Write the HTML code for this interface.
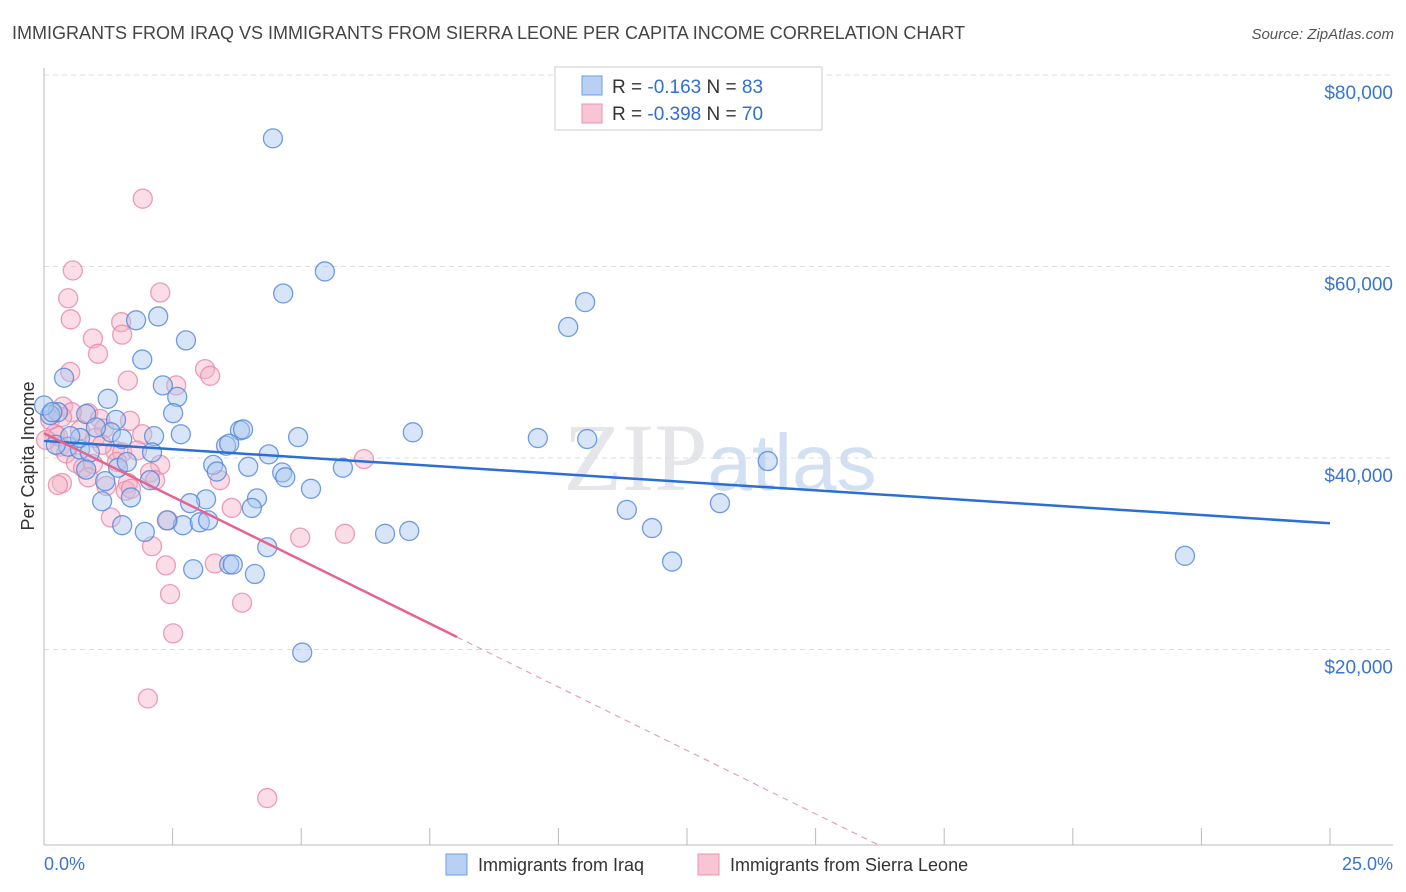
<!DOCTYPE html>
<html><head><meta charset="utf-8"><style>
body{margin:0;background:#fff;width:1406px;height:892px;overflow:hidden;font-family:"Liberation Sans",sans-serif}
svg{display:block}
</style></head><body>
<svg id="chart" width="1406" height="892" xmlns="http://www.w3.org/2000/svg">
<text x="12" y="39" font-size="18" fill="#444">IMMIGRANTS FROM IRAQ VS IMMIGRANTS FROM SIERRA LEONE PER CAPITA INCOME CORRELATION CHART</text>
<text x="1394" y="39" font-size="15" fill="#555" font-style="italic" text-anchor="end">Source: ZipAtlas.com</text>
<text x="720" y="490" font-size="96" fill="#e4e6ea" text-anchor="middle" font-family="Liberation Serif, serif">ZIP<tspan fill="#d3e0f2" font-family="Liberation Sans, sans-serif" font-size="80">atlas</tspan></text>
<g id="grid"></g><g id="axes"></g><g id="pts"></g><g id="trends"></g>
<text transform="translate(34,456) rotate(-90)" font-size="18" fill="#333" text-anchor="middle">Per Capita Income</text>
<text x="44" y="870" font-size="18" fill="#3a75d0">0.0%</text>
<text x="1393" y="870" font-size="18" fill="#3a75d0" text-anchor="end">25.0%</text>
<g>
<rect x="555" y="67" width="267" height="63" fill="#fff" stroke="#ccc"/>
<rect x="582" y="76" width="20" height="19" fill="#b8d0f3" stroke="#6e9ee0"/>
<rect x="582" y="104" width="20" height="19" fill="#f9c4d3" stroke="#ec93b0"/>
<text x="612" y="93" font-size="19" fill="#333">R = <tspan fill="#2f6fd0"> -0.163</tspan>    N = <tspan fill="#2f6fd0">83</tspan></text>
<text x="612" y="120" font-size="19" fill="#333">R = <tspan fill="#2f6fd0">-0.398</tspan>    N = <tspan fill="#2f6fd0">70</tspan></text>
</g>
<g>
<rect x="446" y="854" width="21" height="21" fill="#b8d0f3" stroke="#6e9ee0"/>
<text x="478" y="871" font-size="18" fill="#333">Immigrants from Iraq</text>
<rect x="698" y="854" width="21" height="21" fill="#f9c4d3" stroke="#ec93b0"/>
<text x="730" y="871" font-size="18" fill="#333">Immigrants from Sierra Leone</text>
</g>
</svg>
<script>
const yTicks=[20000,40000,60000,80000];
const yTickLabels=["$20,000","$40,000","$60,000","$80,000"];
const xTicks=[0,2.5,5,7.5,10,12.5,15,17.5,20,22.5,25];
const iraqX=[4.45,5.46,4.65,10.52,10.19,2.22,1.79,2.76,1.91,0.39,2.31,2.59,1.24,2.51,0.82,1.40,0.27,0.12,2.14,2.66,1.30,1.01,1.52,3.81,3.87,4.94,7.17,9.60,10.56,14.07,0.47,0.70,2.10,3.54,3.60,4.37,3.29,3.36,3.97,4.63,4.69,5.81,1.44,2.06,1.19,5.19,1.13,1.69,3.15,2.84,4.14,4.04,1.52,2.70,3.03,3.19,1.96,2.39,4.34,6.63,7.10,11.33,11.82,13.14,12.21,22.18,2.90,3.60,3.67,4.10,5.02,0.0,0.16,0.23,0.70,0.51,0.89,1.61,0.82];
const iraqY=[73.8,59.9,57.6,56.7,54.1,55.2,54.8,52.7,50.7,48.8,48.0,46.8,46.6,45.1,45.0,44.4,45.2,44.9,42.7,42.9,43.1,43.6,42.4,43.3,43.4,42.6,43.1,42.5,42.4,40.1,41.6,41.3,41.0,41.7,41.9,40.8,39.7,39.0,39.5,38.9,38.4,39.4,39.4,38.1,38.0,37.2,35.9,36.3,36.1,35.7,36.2,35.2,33.4,33.4,33.7,33.9,32.7,33.9,31.1,32.5,32.8,35.0,33.1,35.7,29.6,30.2,28.8,29.3,29.3,28.3,20.1,45.9,45.2,41.8,42.5,42.7,41.0,40.0,39.2];
const sleX=[1.92,0.56,0.47,0.52,2.26,0.95,1.05,1.50,1.52,0.51,1.63,3.13,3.23,2.57,0.37,0.86,1.09,1.67,1.91,0.21,0.31,0.27,0.43,0.62,0.76,0.95,1.38,1.52,1.81,2.26,2.06,0.86,0.35,0.27,1.63,1.59,1.69,1.21,3.42,1.30,2.41,2.10,3.65,4.98,5.85,6.22,3.32,2.37,2.45,3.85,2.51,2.02,4.34,0.12,0.04,0.54,1.17,0.99,1.13,1.42,2.16,0.35,0.70];
const sleY=[67.5,60.0,57.1,54.9,57.7,52.9,51.3,54.6,53.3,49.4,48.5,49.7,49.0,48.0,45.8,45.1,44.5,44.3,42.9,42.9,41.6,42.7,40.9,39.9,39.4,39.8,41.2,41.0,41.2,39.7,38.9,38.4,37.8,37.6,37.8,37.0,37.2,37.5,38.1,34.2,33.9,31.2,35.2,32.1,32.5,40.3,29.4,29.2,26.2,25.3,22.1,15.3,4.9,44.4,42.3,45.2,43.5,42.5,41.8,40.0,38.1,44.7,43.3];
const iraqTrend=[42.2,33.6];   // income (k) at 0% and 25%
const sleTrend=[43.0,-2.65];   // intercept (k), slope per %
const NS="http://www.w3.org/2000/svg";
const X0=44,X1=1330,Y0=845,YPER=191.5/20;
const sx=p=>X0+(X1-X0)*p/25;
const sy=k=>Y0-k*YPER;
function mk(tag,attrs,parent){const e=document.createElementNS(NS,tag);for(const k in attrs)e.setAttribute(k,attrs[k]);parent.appendChild(e);return e;}
const grid=document.getElementById('grid'),axes=document.getElementById('axes'),pts=document.getElementById('pts'),tr=document.getElementById('trends');
yTicks.forEach((v,i)=>{
 const y=sy(v/1000)-4;
 const l=mk('line',{x1:44,x2:1393,y1:y,y2:y,stroke:'#dcdcdc','stroke-dasharray':'5,4'},grid);
 
 
 const t=mk('text',{x:1393,y:y+24,'font-size':19,fill:'#3a75d0','text-anchor':'end'},grid);
 
 
 t.textContent=yTickLabels[i];
});
const ax=mk('line',{x1:44,x2:44,y1:68,y2:845,stroke:'#bbb'},axes);


const bx=mk('line',{x1:44,x2:1393,y1:845,y2:845,stroke:'#bbb'},axes);


xTicks.forEach(p=>{
 const t=mk('line',{x1:sx(p),x2:sx(p),y1:828,y2:845,stroke:'#bbb'},axes);
 
 
});
function dots(xs,ys,fill,stroke,name){
 xs.forEach((p,i)=>{
  const c=mk('circle',{cx:sx(p),cy:sy(ys[i]),r:9.5,fill:fill,'fill-opacity':0.45,stroke:stroke,'stroke-opacity':0.8,'stroke-width':1.3},pts);
  
  
 });
}
dots(sleX,sleY,'#f5b3c7','#ea86a6','point-sierra-leone');
dots(iraqX,iraqY,'#a8c6ef','#4f86d9','point-iraq');
const b=mk('line',{x1:sx(0),y1:sy(iraqTrend[0]),x2:sx(25),y2:sy(iraqTrend[1]),stroke:'#2a6fd6','stroke-width':2.5},tr);


const pEnd=8.03,pZero=-sleTrend[0]/sleTrend[1];
const s=mk('line',{x1:sx(0),y1:sy(sleTrend[0]),x2:sx(pEnd),y2:sy(sleTrend[0]+sleTrend[1]*pEnd),stroke:'#e8628f','stroke-width':2.5},tr);


const d=mk('line',{x1:sx(pEnd),y1:sy(sleTrend[0]+sleTrend[1]*pEnd),x2:sx(pZero),y2:sy(0),stroke:'#e8a0b8','stroke-width':1.2,'stroke-dasharray':'6,5'},tr);


</script>
</body></html>
